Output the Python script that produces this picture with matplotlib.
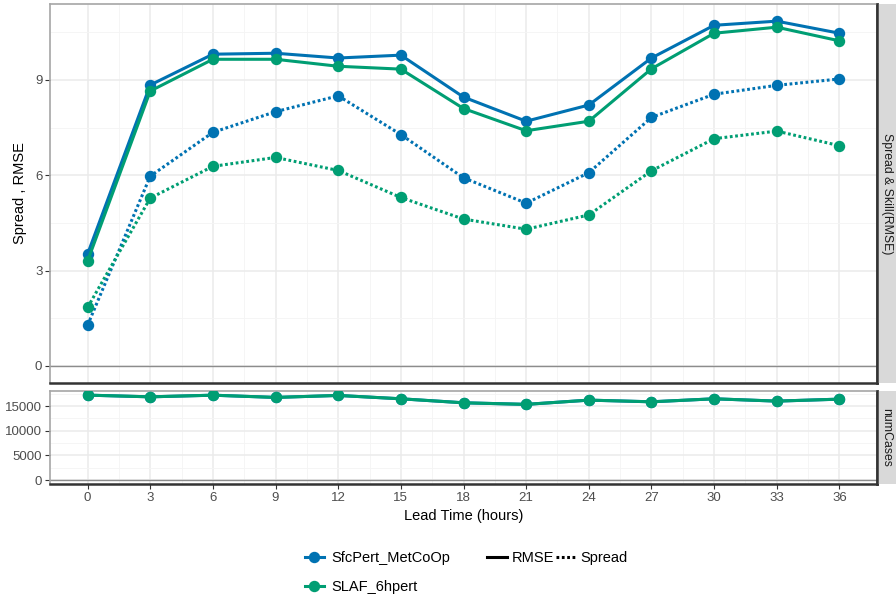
import matplotlib
matplotlib.use('Agg')
import matplotlib.pyplot as plt
from matplotlib.lines import Line2D

plt.rcParams['font.family'] = ['Liberation Sans', 'DejaVu Sans']

lead = [0, 3, 6, 9, 12, 15, 18, 21, 24, 27, 30, 33, 36]

sfc_rmse = [3.52, 8.84, 9.81, 9.84, 9.69, 9.78, 8.46, 7.70, 8.21, 9.69, 10.72, 10.85, 10.47]
slaf_rmse = [3.30, 8.65, 9.65, 9.65, 9.43, 9.34, 8.10, 7.40, 7.70, 9.35, 10.47, 10.66, 10.23]
sfc_spread = [1.28, 5.97, 7.35, 8.00, 8.50, 7.28, 5.92, 5.12, 6.08, 7.82, 8.55, 8.83, 9.03]
slaf_spread = [1.84, 5.28, 6.28, 6.56, 6.15, 5.30, 4.62, 4.30, 4.75, 6.14, 7.15, 7.39, 6.93]

sfc_cases = [17210, 16870, 17200, 16750, 17150, 16470, 15660, 15340, 16200, 15860, 16470, 16000, 16400]
slaf_cases = [17210, 16870, 17200, 16750, 17150, 16470, 15660, 15340, 16200, 15860, 16470, 16000, 16400]

blue = '#0072B2'
green = '#009E73'
W, H = 896, 595

fig = plt.figure(figsize=(W / 100, H / 100), dpi=100)
ax1 = fig.add_axes([50 / W, 1 - 383 / H, 827 / W, 379 / H])
ax2 = fig.add_axes([50 / W, 1 - 484 / H, 827 / W, 93 / H])
strip1 = fig.add_axes([877 / W, 1 - 383 / H, 19 / W, 379 / H])
strip2 = fig.add_axes([877 / W, 1 - 484 / H, 19 / W, 93 / H])

lw = 2.2
ms = 7.2
dot = (0, (0.9, 0.85))


def style_panel(ax):
    ax.set_xlim(-1.8, 37.8)
    ax.set_xticks(lead)
    ax.set_xticks([1.5 + 3 * k for k in range(12)], minor=True)
    ax.grid(True, which='major', color='#EBEBEB', lw=1.1, zorder=0)
    ax.grid(True, which='minor', color='#F4F4F4', lw=0.6, zorder=0)
    ax.set_axisbelow(True)
    for s in ['top', 'left']:
        ax.spines[s].set_color('#A6A6A6')
        ax.spines[s].set_linewidth(1.2)
    for s in ['bottom', 'right']:
        ax.spines[s].set_color('#333333')
        ax.spines[s].set_linewidth(1.8)
    ax.tick_params(which='major', length=3.5, color='#333333', labelsize=9.5,
                   labelcolor='#4D4D4D', pad=2)
    ax.tick_params(which='minor', length=0)
    ax.axhline(0, color='#8C8C8C', lw=1.0, zorder=1)


style_panel(ax1)
ax1.set_ylim(-0.54, 11.39)
ax1.set_yticks([0, 3, 6, 9])
ax1.set_yticks([1.5, 4.5, 7.5, 10.5], minor=True)
ax1.tick_params(axis='x', labelbottom=False, length=0)

ax1.plot(lead, sfc_spread, color=blue, lw=lw, ls=dot, marker='o', ms=ms, zorder=3)
ax1.plot(lead, slaf_spread, color=green, lw=lw, ls=dot, marker='o', ms=ms, zorder=3)
ax1.plot(lead, sfc_rmse, color=blue, lw=lw, marker='o', ms=ms, zorder=3)
ax1.plot(lead, slaf_rmse, color=green, lw=lw, marker='o', ms=ms, zorder=3)
ax1.set_ylabel('Spread , RMSE', fontsize=10.5, color='black', labelpad=6)

style_panel(ax2)
ax2.set_ylim(-800, 18050)
ax2.set_yticks([0, 5000, 10000, 15000])
ax2.set_yticks([2500, 7500, 12500, 17500], minor=True)
ax2.plot(lead, sfc_cases, color=blue, lw=lw, marker='o', ms=ms, zorder=3)
ax2.plot(lead, slaf_cases, color=green, lw=lw, marker='o', ms=ms, zorder=3)
ax2.set_xlabel('Lead Time (hours)', fontsize=10.5, color='black', labelpad=4)

for st, label in [(strip1, 'Spread & Skill(RMSE)'), (strip2, 'numCases')]:
    st.set_facecolor('#D9D9D9')
    st.set_xticks([])
    st.set_yticks([])
    for s in st.spines.values():
        s.set_visible(False)
    st.spines['left'].set_visible(True)
    st.spines['left'].set_color('#333333')
    st.spines['left'].set_linewidth(1.8)
    st.text(0.5, 0.5, label, rotation=-90, ha='center', va='center',
            fontsize=8.8, color='#1A1A1A', transform=st.transAxes)

h_col = [Line2D([], [], color=blue, lw=lw, marker='o', ms=ms),
         Line2D([], [], color=green, lw=lw, marker='o', ms=ms)]
fig.legend(h_col, ['SfcPert_MetCoOp', 'SLAF_6hpert'], loc='upper left',
           bbox_to_anchor=(305 / W, 1 - 551 / H), frameon=False, fontsize=10.5,
           handlelength=1.3, handletextpad=0.5, borderpad=0, borderaxespad=0,
           labelspacing=1.05)

h_lt = [Line2D([], [], color='black', lw=lw),
        Line2D([], [], color='black', lw=lw, ls=dot)]
fig.legend(h_lt, ['RMSE', 'Spread'], loc='upper left', ncol=2,
           bbox_to_anchor=(487 / W, 1 - 551 / H), frameon=False, fontsize=10.5,
           handlelength=1.35, handletextpad=0.35, borderpad=0, borderaxespad=0,
           columnspacing=0.1)

fig.savefig('out.png', dpi=100)
